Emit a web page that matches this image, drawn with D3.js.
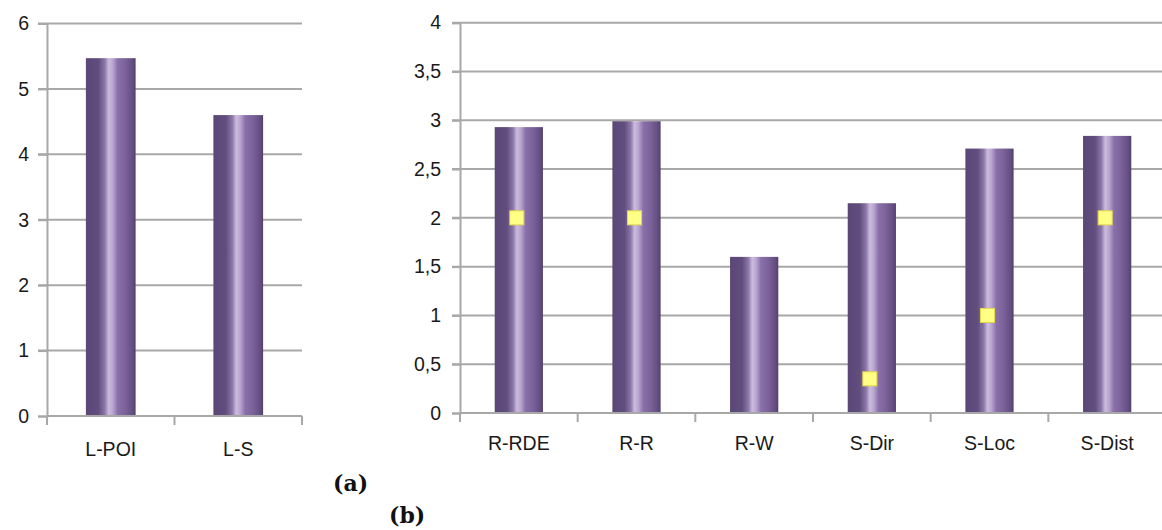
<!DOCTYPE html>
<html>
<head>
<meta charset="utf-8">
<script src="https://cdn.jsdelivr.net/npm/d3@7"></script>
<style>
  html, body { margin: 0; padding: 0; background: #fff; }
  svg { display: block; }
  .tick text { font-family: "Liberation Sans", Arial, sans-serif; font-size: 19.5px; fill: #1a1a1a; }
  .lbl { font-family: "DejaVu Serif", "Liberation Serif", serif; font-weight: bold; font-size: 22px; fill: #111; }
</style>
</head>
<body>
<div id="chart"></div>
<script>
// chart (a)
const catsA = ["L-POI", "L-S"];
const valsA = [5.47, 4.60];
const ticksA = [0, 1, 2, 3, 4, 5, 6];

// chart (b)
const catsB = ["R-RDE", "R-R", "R-W", "S-Dir", "S-Loc", "S-Dist"];
const valsB = [2.93, 2.99, 1.60, 2.15, 2.71, 2.84];
const marksB = [2, 2, null, 0.35, 1, 2];
const ticksB = [0, 0.5, 1, 1.5, 2, 2.5, 3, 3.5, 4];

const W = 1162, H = 530;
const gridCol = "#a8a8a8";
const loc = d3.formatLocale({ decimal: ",", thousands: ".", grouping: [3], currency: ["", ""] });
const fmt = loc.format("~g");

const svg = d3.select("#chart").append("svg")
  .attr("width", W).attr("height", H);

// horizontal gradient for the cylinders
const grad = svg.append("defs").append("linearGradient")
  .attr("id", "barGrad").attr("x1", "0%").attr("x2", "100%").attr("y1", "0%").attr("y2", "0%");
[
  [0, "#5b4777"], [0.25, "#614d7e"], [0.38, "#8c78a8"], [0.46, "#cbbcdd"],
  [0.54, "#b9a6cf"], [0.64, "#8a70aa"], [0.8, "#7a6198"], [0.93, "#654f85"], [1, "#54416c"]
].forEach(([o, c]) => grad.append("stop").attr("offset", o).attr("stop-color", c));

const drawPanel = (opt) => {
  const { cats, vals, ticks, marks, x0, x1, y0, y1, gridLeft, barFrac } = opt;
  const g = svg.append("g");

  const x = d3.scaleBand().domain(cats).range([x0, x1]).paddingInner(0).paddingOuter(0);
  const y = d3.scaleLinear().domain([0, d3.max(ticks)]).range([y0, y1]);

  // gridlines
  g.selectAll(".grid").data(ticks.slice(1)).enter().append("line")
    .attr("class", "grid")
    .attr("x1", gridLeft).attr("x2", opt.gridRight)
    .attr("y1", d => y(d)).attr("y2", d => y(d))
    .attr("stroke", gridCol).attr("stroke-width", 2);

  // y axis
  const yAx = g.append("g").attr("transform", `translate(${x0},0)`)
    .call(d3.axisLeft(y).tickValues(ticks).tickFormat(fmt).tickSize(x0 - gridLeft).tickPadding(opt.yPad));
  yAx.select(".domain").attr("stroke", gridCol).attr("stroke-width", 2);
  yAx.selectAll(".tick line").attr("stroke", gridCol).attr("stroke-width", 2);

  // bars
  const bw = x.bandwidth() * barFrac;
  g.selectAll(".bar").data(cats).enter().append("rect")
    .attr("class", "bar")
    .attr("x", d => x(d) + x.bandwidth() / 2 - bw / 2)
    .attr("width", bw)
    .attr("y", (d, i) => y(vals[i]))
    .attr("height", (d, i) => y0 - y(vals[i]))
    .attr("fill", "url(#barGrad)");

  // x axis
  const xAx = g.append("g").attr("transform", `translate(0,${y0})`)
    .call(d3.axisBottom(x).tickSize(0).tickPadding(opt.xPad));
  xAx.select(".domain").remove();
  xAx.append("line").attr("x1", x0).attr("x2", opt.gridRight).attr("stroke", gridCol).attr("stroke-width", 2);
  const edges = cats.map(c => x(c)).concat([x1]);
  xAx.selectAll(".edge").data(edges).enter().append("line")
    .attr("class", "edge")
    .attr("x1", d => d).attr("x2", d => d).attr("y1", 0).attr("y2", 9)
    .attr("stroke", gridCol).attr("stroke-width", 2);

  // yellow markers
  if (marks) {
    const m = 14;
    g.selectAll(".mk").data(cats.filter((c, i) => marks[i] != null)).enter().append("rect")
      .attr("class", "mk")
      .attr("x", d => x(d) + x.bandwidth() / 2 - m / 2 - 2)
      .attr("y", d => y(marks[cats.indexOf(d)]) - m / 2)
      .attr("width", m).attr("height", m)
      .attr("fill", "#ffff85").attr("stroke", "#e6d84a").attr("stroke-width", 1);
  }
};

drawPanel({
  cats: catsA, vals: valsA, ticks: ticksA,
  x0: 47, x1: 302, y0: 416, y1: 23.5, gridLeft: 38, gridRight: 302,
  barFrac: 0.39, yPad: 9, xPad: 26
});

drawPanel({
  cats: catsB, vals: valsB, ticks: ticksB, marks: marksB,
  x0: 460, x1: 1166, y0: 413, y1: 22.7, gridLeft: 452, gridRight: 1166,
  barFrac: 0.41, yPad: 11, xPad: 23
});

svg.append("text").attr("class", "lbl").attr("x", 333).attr("y", 491).text("(a)");
svg.append("text").attr("class", "lbl").attr("x", 389).attr("y", 523).text("(b)");
</script>
</body>
</html>
